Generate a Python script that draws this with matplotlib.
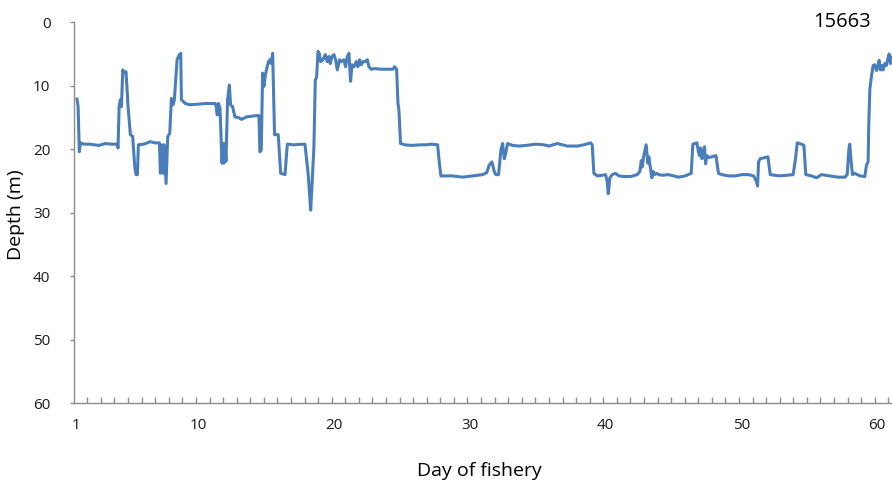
import numpy as np
import matplotlib
matplotlib.use('Agg')
import matplotlib.pyplot as plt

# Depth trace of tag 15663
days = [1.07, 1.15, 1.24, 1.32, 1.6, 2.0, 2.67, 3.16, 3.6, 4.02, 4.09, 4.17, 4.26, 4.34,
        4.44, 4.52, 4.58, 4.68, 4.83, 5.0, 5.17, 5.32, 5.42, 5.52, 5.59, 6.0, 6.47, 6.8,
        7.14, 7.21, 7.33, 7.41, 7.48, 7.63, 7.75, 7.9, 8.02, 8.14, 8.24, 8.44, 8.61, 8.71,
        8.76, 9.05, 9.39, 10.0, 10.5, 11.23, 11.3, 11.4, 11.48, 11.6, 11.75, 11.82, 11.89,
        11.97, 12.04, 12.16, 12.29, 12.38, 12.53, 12.7, 12.95, 13.19, 13.56, 14.3, 14.47,
        14.54, 14.64, 14.74, 14.84, 14.94, 15.08, 15.18, 15.28, 15.38, 15.48, 15.62, 15.89,
        16.07, 16.39, 16.56, 17.0, 17.86, 18.1, 18.28, 18.37, 18.52, 18.62, 18.72, 18.82,
        18.91, 19.01, 19.18, 19.36, 19.5, 19.63, 19.72, 19.85, 20.0, 20.12, 20.24, 20.41,
        20.53, 20.73, 20.85, 20.98, 21.1, 21.17, 21.22, 21.32, 21.47, 21.64, 21.76, 21.88,
        22.01, 22.13, 22.3, 22.45, 22.57, 22.74, 22.99, 23.48, 23.97, 24.34, 24.46, 24.61,
        24.71, 24.78, 24.9, 25.2, 25.69, 26.42, 26.77, 27.2, 27.63, 27.75, 27.87, 28.73,
        29.47, 30.2, 30.94, 31.24, 31.43, 31.63, 31.8, 31.92, 32.12, 32.3, 32.42, 32.54,
        32.66, 32.78, 33.15, 33.64, 34.13, 34.87, 35.46, 35.83, 36.44, 37.18, 37.91, 38.4,
        38.9, 39.02, 39.14, 39.39, 39.76, 40.0, 40.12, 40.2, 40.32, 40.49, 40.74, 40.98,
        41.35, 41.84, 42.33, 42.53, 42.63, 42.7, 42.82, 42.99, 43.12, 43.19, 43.31, 43.41,
        43.51, 43.61, 43.76, 43.93, 44.15, 44.64, 45.38, 45.87, 46.31, 46.43, 46.73, 46.85,
        46.92, 47.0, 47.1, 47.22, 47.29, 47.37, 47.46, 47.59, 47.83, 48.13, 48.32, 48.57,
        49.06, 49.55, 50.04, 50.53, 50.9, 51.1, 51.2, 51.27, 51.39, 51.76, 51.96, 52.13,
        52.84, 53.82, 53.99, 54.12, 54.44, 54.61, 54.75, 55.17, 55.54, 55.91, 56.52, 57.14,
        57.63, 57.8, 57.92, 57.99, 58.09, 58.19, 58.36, 58.73, 59.1, 59.22, 59.34, 59.39,
        59.47, 59.59, 59.71, 59.84, 59.96, 60.08, 60.15, 60.25, 60.35, 60.45, 60.57, 60.69,
        60.82, 60.89, 60.99, 61.09]
depth = [12.1, 13.3, 20.4, 19.0, 19.2, 19.2, 19.4, 19.1, 19.2, 19.2, 19.8, 13.3, 12.2, 13.3,
         7.5, 8.0, 7.8, 7.8, 13.3, 17.7, 18.0, 22.7, 24.0, 24.0, 19.3, 19.2, 18.8, 19.0,
         19.0, 23.8, 19.3, 23.8, 19.3, 25.4, 18.0, 17.5, 12.0, 13.0, 12.2, 5.9, 5.1, 4.9,
         12.2, 12.8, 13.0, 12.9, 12.8, 12.8, 13.0, 14.6, 12.8, 13.5, 22.2, 19.1, 22.2,
         19.1, 21.9, 12.2, 9.9, 13.0, 13.3, 14.9, 15.0, 15.3, 14.9, 14.7, 14.7,
         20.4, 20.1, 8.0, 10.1, 8.3, 7.0, 6.2, 5.9, 6.5, 4.9, 17.7, 17.7,
         23.8, 24.0, 19.2, 19.3, 19.2, 24.0, 29.6, 26.0, 19.6, 9.1, 8.6, 4.6,
         4.9, 6.2, 5.9, 5.1, 6.2, 5.4, 6.5, 5.4, 5.1, 5.9, 7.5, 5.9,
         6.2, 5.9, 7.0, 5.4, 4.9, 7.5, 9.3, 6.7, 7.0, 6.2, 7.0, 5.9,
         6.7, 6.2, 6.2, 5.9, 7.0, 7.4, 7.3, 7.4, 7.4, 7.4, 7.0, 7.4,
         12.8, 13.8, 19.1, 19.3, 19.4, 19.3, 19.3, 19.2, 19.3, 22.0, 24.2, 24.2,
         24.4, 24.2, 24.0, 23.7, 22.5, 22.0, 23.5, 24.0, 24.0, 20.0, 19.1, 21.5,
         20.5, 19.1, 19.4, 19.5, 19.4, 19.2, 19.3, 19.5, 19.1, 19.5, 19.5, 19.3,
         19.0, 19.3, 23.8, 24.2, 24.1, 24.0, 25.0, 27.0, 24.5, 24.0, 23.8, 24.2,
         24.3, 24.3, 24.0, 23.5, 21.8, 22.8, 21.0, 19.3, 22.2, 21.2, 23.0, 24.5,
         23.5, 24.0, 23.8, 24.0, 24.1, 24.0, 24.4, 24.2, 23.8, 19.2, 19.0, 20.5,
         21.0, 19.8, 21.5, 20.2, 19.6, 22.3, 21.0, 21.3, 21.2, 21.0, 23.8, 24.0,
         24.2, 24.2, 24.0, 24.0, 24.2, 25.0, 25.8, 22.0, 21.5, 21.3, 21.2, 24.0,
         24.2, 24.0, 21.5, 19.0, 19.2, 19.4, 24.0, 24.2, 24.5, 24.0, 24.2, 24.4,
         24.4, 24.0, 20.0, 19.2, 22.0, 24.0, 23.8, 24.2, 24.3, 22.5, 22.0, 16.0,
         10.5, 8.5, 6.8, 6.7, 7.6, 6.8, 6.0, 7.5, 6.8, 7.5, 6.5, 6.8,
         5.5, 5.0, 6.5, 5.5]

x_labels = [1, 10, 20, 30, 40, 50, 60]
y_ticks = [0, 10, 20, 30, 40, 50, 60]
tag_id = '15663'

plt.rcParams['font.family'] = ['Open Sans', 'DejaVu Sans']

fig = plt.figure(figsize=(8.92, 4.84), dpi=100)
ax = fig.add_axes([0.083, 0.167, 0.917, 0.787])

ax.plot(days, depth, color='#4a7ebb', linewidth=2.2, solid_joinstyle='round')

ax.set_xlim(0.85, 61.1)
ax.set_ylim(60, 0)

ax.set_yticks(y_ticks)
ax.set_xticks(x_labels)
ax.set_xticks(np.arange(1.83, 61, 1), minor=True)

# look of the axes
for s in ['top', 'right']:
    ax.spines[s].set_visible(False)
for s in ['left', 'bottom']:
    ax.spines[s].set_color('#8c8c8c')
    ax.spines[s].set_linewidth(1.0)

ax.tick_params(axis='y', direction='out', length=3, width=1, color='#8c8c8c',
               pad=14, labelsize=11, labelcolor='#1a1a1a')
ax.tick_params(axis='x', which='major', length=0, pad=11, labelsize=11,
               labelcolor='#1a1a1a')
ax.tick_params(axis='x', which='minor', direction='in', length=4, width=1,
               color='#8c8c8c')

ax.set_ylabel('Depth (m)', fontsize=14)
ax.yaxis.set_label_coords(-0.06, 0.494)
ax.set_xlabel('Day of fishery', fontsize=14)
ax.xaxis.set_label_coords(0.496, -0.155)

ax.text(0.9385, 1.0, tag_id, transform=ax.transAxes, ha='center', va='center',
        fontsize=14.5, color='black')

fig.savefig('out.png', dpi=100)
